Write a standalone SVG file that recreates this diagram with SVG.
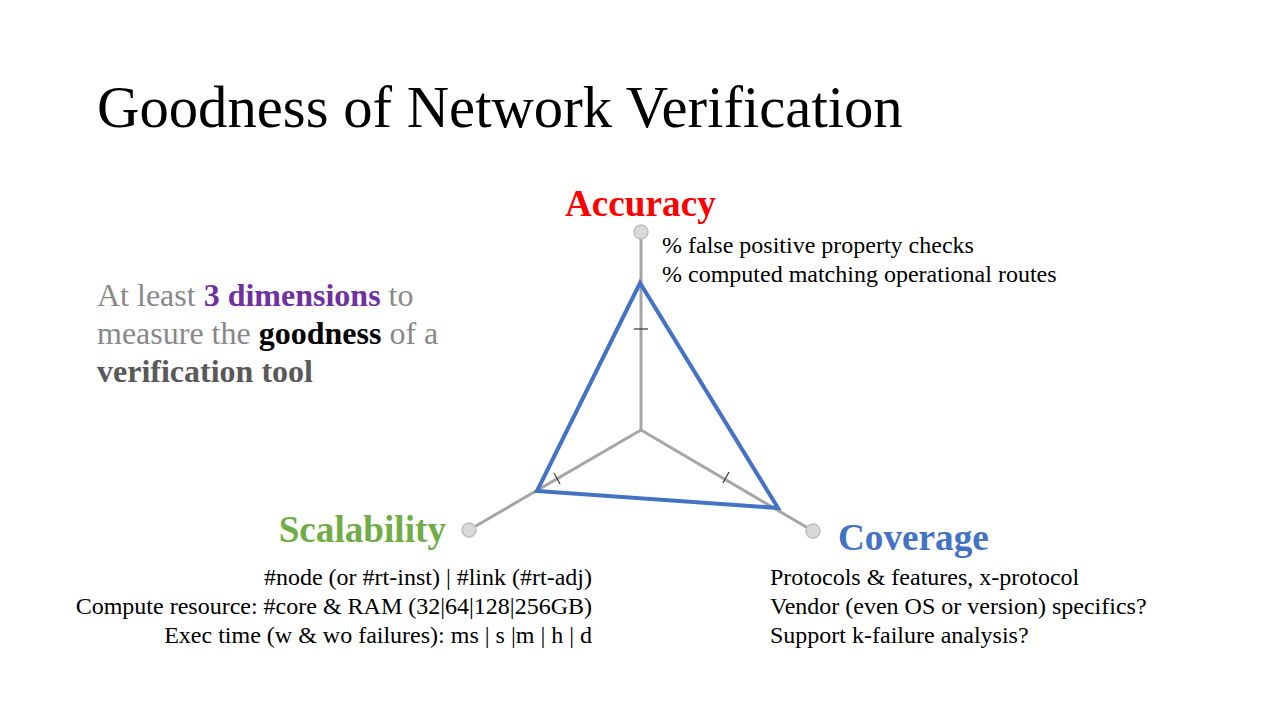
<svg xmlns="http://www.w3.org/2000/svg" width="1280" height="720" viewBox="0 0 1280 720">
  <style>
    text { font-family: "Liberation Serif", "Times New Roman", serif; }
    .title { font-size: 58.7px; fill: #000; }
    .dim { font-size: 37.2px; font-weight: bold; }
    .desc { font-size: 24px; fill: #000; }
    .intro { font-size: 32px; fill: #888888; }
    .axis { stroke: #a6a6a6; stroke-width: 3; fill: none; }
    .tick { stroke: #404040; stroke-width: 1.3; }
    .end { fill: #d9d9d9; stroke: #bfbfbf; stroke-width: 1.5; }
    .tri { fill: none; stroke: #4472c4; stroke-width: 4; stroke-linejoin: miter; }
  </style>

  <rect width="1280" height="720" fill="#ffffff"/>

  <text class="title" x="97" y="127">Goodness of Network Verification</text>

  <g id="intro">
    <text class="intro" x="97" y="306">At least <tspan font-weight="bold" fill="#7030a0">3 dimensions</tspan> to</text>
    <text class="intro" x="97" y="344">measure the <tspan font-weight="bold" fill="#000000">goodness</tspan> of a</text>
    <text class="intro" x="97" y="382" style="font-weight:bold;fill:#595959">verification tool</text>
  </g>

  <!-- radar axes -->
  <g id="connectors">
    <line class="axis" x1="641" y1="430" x2="641" y2="232"/>
    <line class="axis" x1="641" y1="430" x2="469" y2="530"/>
    <line class="axis" x1="641" y1="430" x2="813" y2="531"/>
    <line class="tick" x1="634" y1="329" x2="648" y2="329"/>
    <line class="tick" x1="554" y1="473" x2="560" y2="484"/>
    <line class="tick" x1="729" y1="472" x2="723" y2="483"/>
    <polygon class="tri" points="640,283 537,491 778,508"/>
  </g>

  <g id="accuracy">
    <circle class="end" cx="641" cy="232" r="7"/>
    <text class="dim" x="565" y="216" fill="#ff0000">Accuracy</text>
    <text class="desc" x="662" y="253">% false positive property checks</text>
    <text class="desc" x="662" y="282">% computed matching operational routes</text>
  </g>

  <g id="scalability">
    <circle class="end" cx="469" cy="530" r="7"/>
    <text class="dim" x="446" y="542" text-anchor="end" fill="#70ad47">Scalability</text>
    <text class="desc" x="592" y="585" text-anchor="end">#node (or #rt-inst) | #link (#rt-adj)</text>
    <text class="desc" x="592" y="614" text-anchor="end">Compute resource: #core &amp; RAM (32|64|128|256GB)</text>
    <text class="desc" x="592" y="643" text-anchor="end">Exec time (w &amp; wo failures): ms | s |m | h | d</text>
  </g>

  <g id="coverage">
    <circle class="end" cx="813" cy="531" r="7"/>
    <text class="dim" x="838" y="550" fill="#4472c4">Coverage</text>
    <text class="desc" x="770" y="585">Protocols &amp; features, x-protocol</text>
    <text class="desc" x="770" y="614">Vendor (even OS or version) specifics?</text>
    <text class="desc" x="770" y="643">Support k-failure analysis?</text>
  </g>
</svg>
